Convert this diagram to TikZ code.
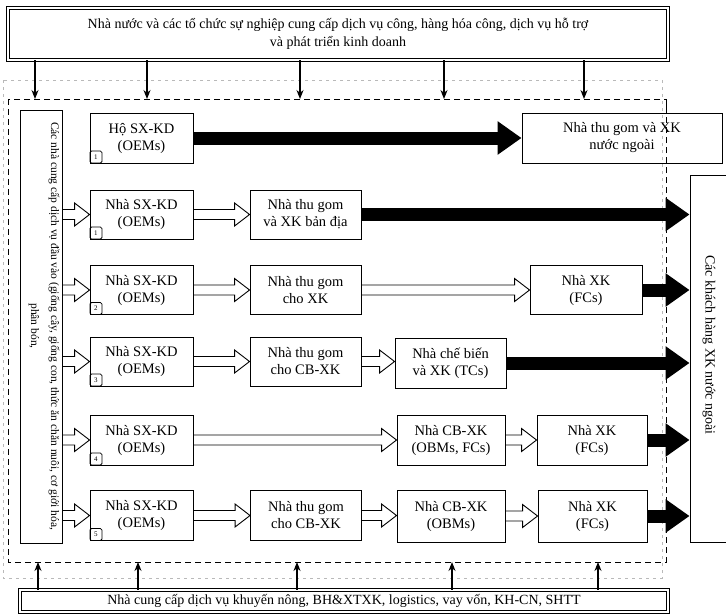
\documentclass[tikz,border=0pt]{standalone}
\usepackage{fontspec}
\setmainfont{Liberation Serif}
\usetikzlibrary{arrows.meta,calc}
\begin{document}
\begin{tikzpicture}[x=1pt,y=-1pt,
  bx/.style={draw, line width=0.9pt, minimum width=#1, minimum height=49pt, align=center,
    inner sep=1pt, font=\fontsize{14.5}{17}\selectfont},
  dbl/.style={draw, double, double distance=1.8pt, line width=0.7pt, inner sep=0pt, align=center,
    font=\fontsize{14}{18}\selectfont},
  numsq/.style={draw, line width=0.8pt, minimum size=12pt, inner sep=0pt, rounded corners=1.5pt,
    font=\fontsize{7}{8}\selectfont, anchor=south west},
  arr/.style={line width=1.3pt, -{Stealth[length=9pt,width=7pt]}},
  thk/.style={line width=13pt, -{Triangle[length=24pt,width=32pt]}},
  hol/.style={line width=0.9pt, to path={let \p1=(\tikztostart), \p2=(\tikztotarget) in
    (\x1,\y1+5pt) -- (\x2-15pt,\y1+5pt) -- (\x2-15pt,\y1+11.5pt) -- (\x2,\y1)
    -- (\x2-15pt,\y1-11.5pt) -- (\x2-15pt,\y1-5pt) -- (\x1,\y1-5pt)}}
]
\useasboundingbox (0,0) rectangle (726,614);

% faint outer frame and dashed region
\draw[gray!55, line width=0.6pt, dash pattern=on 3pt off 4pt] (3,80) rectangle (662,578);
\coordinate (rNW) at (8,99);
\coordinate (rSE) at (666,562);
\draw[line width=0.8pt, dash pattern=on 6pt off 4pt] (rNW) rectangle (rSE);

% top and bottom boxes
\node[dbl, minimum width=660pt, minimum height=52pt] (top) at (338,34)
  {Nhà nước và các tổ chức sự nghiệp cung cấp dịch vụ công, hàng hóa công, dịch vụ hỗ trợ\\và phát triển kinh doanh};
\node[dbl, minimum width=648pt, minimum height=22pt] (bot) at (344,601)
  {Nhà cung cấp dịch vụ khuyến nông, BH\&XTXK, logistics, vay vốn, KH-CN, SHTT};

% left and right boxes
\node[draw, line width=0.9pt, minimum width=42pt, minimum height=433pt] (lbox) at (41,326.5) {};
\node[rotate=-90, align=center, font=\fontsize{11.5}{20}\selectfont] (ltext) at (44,326)
  {Các nhà cung cấp dịch vụ đầu vào (giống cây, giống con, thức ăn chăn nuôi, cơ giới hóa,\\phân bón,};
\node[draw, line width=0.9pt, minimum width=50pt, minimum height=367pt] (cust) at (715,358.5) {};
\node[rotate=-90, font=\fontsize{14}{16}\selectfont] (ctext) at (709,345) {Các khách hàng XK nước ngoài};

% row 1
\node[bx=103pt, minimum height=50pt] (hsx1) at (141.5,138) {Hộ SX-KD\\(OEMs)};
\node[bx=200pt, minimum height=50pt] (colF) at (622,138) {Nhà thu gom và XK\\nước ngoài};
% row 2
\node[bx=103pt] (sx2) at (141.5,214.5) {Nhà SX-KD\\(OEMs)};
\node[bx=111pt] (gomBD) at (305.5,214.5) {Nhà thu gom\\và XK bản địa};
% row 3
\node[bx=103pt] (sx3) at (141.5,290) {Nhà SX-KD\\(OEMs)};
\node[bx=111pt] (gomXK) at (305.5,290) {Nhà thu gom\\cho XK};
\node[bx=112pt] (xk3) at (586,290) {Nhà XK\\(FCs)};
% row 4
\node[bx=103pt] (sx4) at (141.5,361.5) {Nhà SX-KD\\(OEMs)};
\node[bx=111pt] (gomCB4) at (305.5,361.5) {Nhà thu gom\\cho CB-XK};
\node[bx=111pt, minimum height=50pt] (cbxk4) at (450.5,363) {Nhà chế biến\\và XK (TCs)};
% row 5
\node[bx=103pt, minimum height=50pt] (sx5) at (141.5,440) {Nhà SX-KD\\(OEMs)};
\node[bx=108pt, minimum height=50pt] (cb5) at (451,440) {Nhà CB-XK\\(OBMs, FCs)};
\node[bx=110pt, minimum height=50pt] (xk5) at (592,440) {Nhà XK\\(FCs)};
% row 6
\node[bx=103pt, minimum height=50pt] (sx6) at (141.5,515.5) {Nhà SX-KD\\(OEMs)};
\node[bx=111pt, minimum height=50pt] (gomCB6) at (306,515.5) {Nhà thu gom\\cho CB-XK};
\node[bx=108pt, minimum height=52pt] (cb6) at (451,516) {Nhà CB-XK\\(OBMs)};
\node[bx=109pt, minimum height=52pt] (xk6) at (592.5,516) {Nhà XK\\(FCs)};

% number squares
\node[numsq] (n1) at (hsx1.south west) {1};
\node[numsq] (n2) at (sx2.south west) {1};
\node[numsq] (n3) at (sx3.south west) {2};
\node[numsq] (n4) at (sx4.south west) {3};
\node[numsq] (n5) at (sx5.south west) {4};
\node[numsq] (n6) at (sx6.south west) {5};

% top arrows
\foreach \i/\xx in {1/35,2/147,3/300,4/444,5/584}{
  \coordinate (ta\i) at (\xx,99);
  \draw[arr] (top.south -| ta\i) -- (ta\i);
}
% bottom arrows
\foreach \i/\xx in {1/38,2/138,3/297,4/452,5/598}{
  \coordinate (ba\i) at (\xx,562);
  \draw[arr] (bot.north -| ba\i) -- (ba\i);
}
% link region to foreign collector
\draw[line width=0.9pt] (rNW -| rSE) -- (colF.north -| rSE);

% thick arrows
\draw[thk] (hsx1.east) -- (colF.west);
\draw[thk] (gomBD.east) -- (gomBD.east -| cust.west);
\draw[thk] (xk3.east) -- (xk3.east -| cust.west);
\draw[thk] (cbxk4.east) -- (cbxk4.east -| cust.west);
\draw[thk] (xk5.east) -- (xk5.east -| cust.west);
\draw[thk] (xk6.east) -- (xk6.east -| cust.west);

% hollow arrows
\draw[hol] (sx2.west -| lbox.east) to (sx2.west);
\draw[hol] (sx3.west -| lbox.east) to (sx3.west);
\draw[hol] (sx4.west -| lbox.east) to (sx4.west);
\draw[hol] (sx5.west -| lbox.east) to (sx5.west);
\draw[hol] (sx6.west -| lbox.east) to (sx6.west);
\draw[hol] (sx2.east) to (gomBD.west);
\draw[hol] (sx3.east) to (gomXK.west);
\draw[hol] (gomXK.east) to (xk3.west);
\draw[hol] (sx4.east) to (gomCB4.west);
\draw[hol] (gomCB4.east) to (cbxk4.west);
\draw[hol] (sx5.east) to (cb5.west);
\draw[hol] (cb5.east) to (xk5.west);
\draw[hol] (sx6.east) to (gomCB6.west);
\draw[hol] (gomCB6.east) to (cb6.west);
\draw[hol] (cb6.east) to (xk6.west);
\end{tikzpicture}
\end{document}
